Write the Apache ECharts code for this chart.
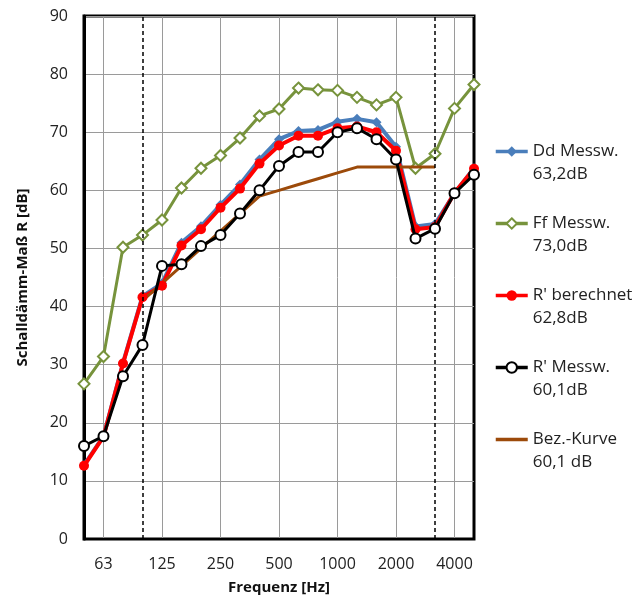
<!DOCTYPE html>
<html>
<head>
<meta charset="utf-8">
<script src="https://cdn.jsdelivr.net/npm/echarts@6/dist/echarts.min.js"></script>
<style>
html,body{margin:0;padding:0;background:#fff;}
#chart{width:643px;height:600px;}
</style>
</head>
<body>
<div id="chart"></div>
<script>
var frequencies = ['50','63','80','100','125','160','200','250','315','400','500','630','800','1000','1250','1600','2000','2500','3150','4000','5000'];
var labeledFrequencies = ['63','125','250','500','1000','2000','4000'];
var dashedFrequencies = ['100','3150'];
var seriesNames = ['Dd Messw.','Ff Messw.',"R' berechnet","R' Messw.",'Bez.-Kurve'];
var ratingTexts = ['63,2dB','73,0dB','62,8dB','60,1dB','60,1 dB'];

var ddMessw = [12.7,17.7,30.3,41.8,44.0,51.0,53.8,57.5,61.0,65.3,68.8,70.2,70.4,71.8,72.3,71.7,67.5,53.8,54.2,59.5,63.8];
var ffMessw = [26.7,31.4,50.2,52.3,54.9,60.4,63.8,66.0,69.0,72.8,74.0,77.6,77.3,77.2,76.0,74.7,76.0,63.8,66.3,74.1,78.2];
var rBerechnet = [12.6,17.6,30.2,41.6,43.6,50.5,53.3,57.0,60.3,64.6,67.7,69.4,69.4,70.7,71.0,70.0,66.8,53.3,53.7,59.6,63.7];
var rMessw = [16.0,17.7,28.0,33.4,47.0,47.3,50.4,52.3,56.0,60.0,64.2,66.6,66.6,70.0,70.7,68.8,65.3,51.7,53.4,59.5,62.7];
var bezKurve = [null,null,null,41,44,47,50,53,56,59,60,61,62,63,64,64,64,64,64,null,null];

var FONT = '"Open Sans", sans-serif';
var chart = echarts.init(document.getElementById('chart'), null, {renderer:'canvas'});

function isLabeled(i){ return labeledFrequencies.indexOf(frequencies[i]) >= 0; }

var legendData = seriesNames.map(function(n, i){
  return i === 4 ? {name: n, itemStyle: {opacity: 0}} : {name: n};
});

var option = {
  animation: false,
  backgroundColor: '#fff',
  textStyle: {fontFamily: FONT},
  grid: {left: 84, right: 169, top: 16, bottom: 57, show: true, borderColor: '#000', borderWidth: 3, containLabel: false},
  legend: {
    orient: 'vertical',
    left: 489,
    top: 112,
    itemWidth: 32,
    itemHeight: 13,
    itemGap: 3,
    data: legendData,
    lineStyle: {width: 3.5},
    formatter: function(name){ return '\n' + name + '\n' + ratingTexts[seriesNames.indexOf(name)]; },
    textStyle: {fontFamily: FONT, fontSize: 17, color: '#222', lineHeight: 23}
  },
  xAxis: {
    type: 'category',
    data: frequencies,
    boundaryGap: false,
    name: 'Frequenz [Hz]',
    nameLocation: 'middle',
    nameGap: 41,
    nameTextStyle: {fontFamily: FONT, fontSize: 15, fontWeight: 'bold', color: '#111'},
    axisLine: {show: true, lineStyle: {color: '#000', width: 2}},
    axisTick: {show: false},
    axisLabel: {interval: function(i){ return isLabeled(i); }, fontFamily: FONT, fontSize: 16, color: '#222', margin: 17},
    splitLine: {show: true, interval: function(i){ return isLabeled(i); }, lineStyle: {color: '#9a9a9a', width: 1}}
  },
  yAxis: {
    type: 'value',
    min: 0, max: 90, interval: 10,
    name: 'Schalldämm-Maß R [dB]',
    nameLocation: 'middle',
    nameGap: 54,
    nameTextStyle: {fontFamily: FONT, fontSize: 15, fontWeight: 'bold', color: '#111'},
    axisLine: {show: true, lineStyle: {color: '#000', width: 3}},
    axisTick: {show: false},
    axisLabel: {fontFamily: FONT, fontSize: 16, color: '#222', margin: 16},
    splitLine: {show: true, lineStyle: {color: '#9a9a9a', width: 1}}
  },
  series: [
    {name: seriesNames[0], type: 'line', data: ddMessw, color: '#4A7EBB', symbol: 'diamond', symbolSize: 10,
     lineStyle: {width: 4, color: '#4A7EBB'}, itemStyle: {color: '#4A7EBB'}, z: 2},
    {name: seriesNames[1], type: 'line', data: ffMessw, color: '#77933C', symbol: 'emptyDiamond', symbolSize: 11,
     lineStyle: {width: 3, color: '#77933C'}, itemStyle: {color: '#77933C', borderWidth: 1.5}, z: 3},
    {name: seriesNames[2], type: 'line', data: rBerechnet, color: '#FF0000', symbol: 'circle', symbolSize: 10,
     lineStyle: {width: 4, color: '#FF0000'}, itemStyle: {color: '#FF0000'}, z: 4},
    {name: seriesNames[3], type: 'line', data: rMessw, color: '#000000', symbol: 'emptyCircle', symbolSize: 10,
     lineStyle: {width: 3, color: '#000'}, itemStyle: {color: '#000', borderWidth: 1.5}, z: 5},
    {name: seriesNames[4], type: 'line', data: bezKurve, color: '#9C4A0A', symbol: 'none',
     lineStyle: {width: 3, color: '#9C4A0A'}, z: 4,
     markLine: {symbol: 'none', silent: true, label: {show: false},
       lineStyle: {type: [4, 3], color: '#000', width: 1.5},
       data: dashedFrequencies.map(function(f){ return {xAxis: f}; })}}
  ]
};
chart.setOption(option);
</script>
</body>
</html>
